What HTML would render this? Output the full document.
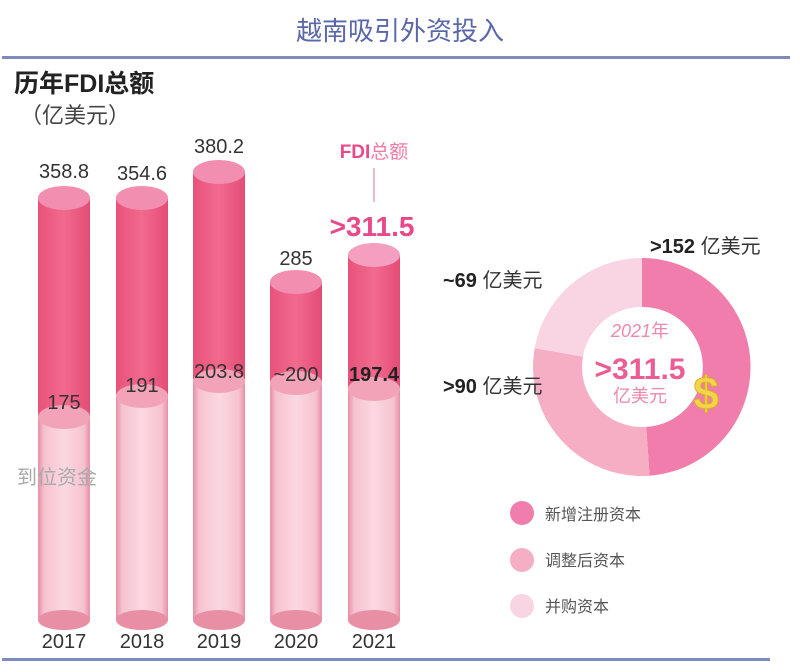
<!DOCTYPE html>
<html><head><meta charset="utf-8"><style>
body{margin:0;background:#fff;}
svg text{font-family:"Liberation Sans","Noto Sans CJK SC",sans-serif;}
</style></head><body>
<svg width="800" height="667" viewBox="0 0 800 667" xmlns="http://www.w3.org/2000/svg">
<defs>
<linearGradient id="dark" x1="0" x2="1" y1="0" y2="0">
<stop offset="0" stop-color="#e8527a"/><stop offset="0.5" stop-color="#f26a8e"/><stop offset="1" stop-color="#e44c76"/>
</linearGradient>
<linearGradient id="light" x1="0" x2="1" y1="0" y2="0">
<stop offset="0" stop-color="#e88ea5"/><stop offset="0.12" stop-color="#f6c3d0"/><stop offset="0.5" stop-color="#fbd8e1"/><stop offset="0.88" stop-color="#f6c3d0"/><stop offset="1" stop-color="#e88ea5"/>
</linearGradient>
</defs>
<text x="400" y="40" text-anchor="middle" font-size="26" fill="#5a67a8">越南吸引外资投入</text>
<rect x="2" y="56" width="788" height="3" fill="#7f8bc0"/>
<text x="14" y="92" font-size="25" font-weight="bold" fill="#222">历年FDI总额</text>
<text x="20" y="123" font-size="22" fill="#444">（亿美元）</text>

<g>
<rect x="38" y="198" width="52" height="422" fill="url(#dark)"/>
<rect x="38" y="417" width="52" height="203" fill="url(#light)"/>
<ellipse cx="64" cy="620" rx="26" ry="10" fill="#e88ea5"/>
<ellipse cx="64" cy="417" rx="26" ry="12" fill="#f3a3b8"/>
<ellipse cx="64" cy="198" rx="26" ry="12" fill="#f28fb0"/>
<text x="64" y="178" text-anchor="middle" font-size="20" fill="#333">358.8</text>
<text x="64" y="409" text-anchor="middle" font-size="20" fill="#333">175</text>
<text x="64" y="648" text-anchor="middle" font-size="20" fill="#333">2017</text>
</g>
<g>
<rect x="116" y="198" width="52" height="422" fill="url(#dark)"/>
<rect x="116" y="396" width="52" height="224" fill="url(#light)"/>
<ellipse cx="142" cy="620" rx="26" ry="10" fill="#e88ea5"/>
<ellipse cx="142" cy="396" rx="26" ry="12" fill="#f3a3b8"/>
<ellipse cx="142" cy="198" rx="26" ry="12" fill="#f28fb0"/>
<text x="142" y="180" text-anchor="middle" font-size="20" fill="#333">354.6</text>
<text x="142" y="392" text-anchor="middle" font-size="20" fill="#333">191</text>
<text x="142" y="648" text-anchor="middle" font-size="20" fill="#333">2018</text>
</g>
<g>
<rect x="193" y="172" width="52" height="448" fill="url(#dark)"/>
<rect x="193" y="381" width="52" height="239" fill="url(#light)"/>
<ellipse cx="219" cy="620" rx="26" ry="10" fill="#e88ea5"/>
<ellipse cx="219" cy="381" rx="26" ry="12" fill="#f3a3b8"/>
<ellipse cx="219" cy="172" rx="26" ry="12" fill="#f28fb0"/>
<text x="219" y="153" text-anchor="middle" font-size="20" fill="#333">380.2</text>
<text x="219" y="378" text-anchor="middle" font-size="20" fill="#333">203.8</text>
<text x="219" y="648" text-anchor="middle" font-size="20" fill="#333">2019</text>
</g>
<g>
<rect x="270" y="282" width="52" height="338" fill="url(#dark)"/>
<rect x="270" y="383" width="52" height="237" fill="url(#light)"/>
<ellipse cx="296" cy="620" rx="26" ry="10" fill="#e88ea5"/>
<ellipse cx="296" cy="383" rx="26" ry="12" fill="#f3a3b8"/>
<ellipse cx="296" cy="282" rx="26" ry="12" fill="#f28fb0"/>
<text x="296" y="265" text-anchor="middle" font-size="20" fill="#333">285</text>
<text x="296" y="381" text-anchor="middle" font-size="20" fill="#333">~200</text>
<text x="296" y="648" text-anchor="middle" font-size="20" fill="#333">2020</text>
</g>
<g>
<rect x="348" y="255" width="52" height="365" fill="url(#dark)"/>
<rect x="348" y="389" width="52" height="231" fill="url(#light)"/>
<ellipse cx="374" cy="620" rx="26" ry="10" fill="#e88ea5"/>
<ellipse cx="374" cy="389" rx="26" ry="12" fill="#f3a3b8"/>
<ellipse cx="374" cy="255" rx="26" ry="12" fill="#f49ec0"/>
<text x="374" y="381" text-anchor="middle" font-size="20" font-weight="bold" fill="#222">197.4</text>
<text x="374" y="648" text-anchor="middle" font-size="20" fill="#333">2021</text>
</g>
<text x="17" y="484" font-size="20" fill="#aaa">到位资金</text>
<line x1="374" y1="168" x2="374" y2="202" stroke="#f0a0bc" stroke-width="1.5"/>
<text x="374" y="158" text-anchor="middle" font-size="19" font-weight="bold" fill="#e8498a">FDI<tspan font-weight="normal" fill="#f07aa8">总额</tspan></text>
<text x="372" y="236" text-anchor="middle" font-size="28" font-weight="bold" fill="#e8498a">&gt;311.5</text>

<g transform="translate(642,367)">
<path d="M0,-109 A109,109 0 0 1 7.6,108.7 L4.2,59.9 A60,60 0 0 0 0,-60 Z" fill="#f07dac"/>
<path d="M7.6,108.7 A109,109 0 0 1 -107.3,-18.9 L-59.1,-10.4 A60,60 0 0 0 4.2,59.9 Z" fill="#f5aec4"/>
<path d="M-107.3,-18.9 A109,109 0 0 1 0,-109 L0,-60 A60,60 0 0 0 -59.1,-10.4 Z" fill="#f9d5e4"/>
<text x="-2" y="-30" text-anchor="middle" font-size="18" font-style="italic" fill="#ee88b0">2021<tspan font-style="normal">年</tspan></text>
<text x="-2" y="12" text-anchor="middle" font-size="30" font-weight="bold" fill="#ec5d95">&gt;311.5</text>
<text x="-2" y="35" text-anchor="middle" font-size="18" fill="#ee88b0">亿美元</text>
<text x="64" y="42" text-anchor="middle" font-size="46" font-weight="bold" fill="#f2d44a" stroke="#d8b020" stroke-width="1">$</text>
</g>
<text x="650" y="253" font-size="20" fill="#333"><tspan font-weight="bold" fill="#222">&gt;152</tspan> 亿美元</text>
<text x="443" y="287" font-size="20" fill="#333"><tspan font-weight="bold" fill="#222">~69</tspan> 亿美元</text>
<text x="443" y="393" font-size="20" fill="#333"><tspan font-weight="bold" fill="#222">&gt;90</tspan> 亿美元</text>

<circle cx="522" cy="513" r="12" fill="#f07dac"/>
<circle cx="522" cy="560" r="12" fill="#f5aec4"/>
<circle cx="522" cy="606" r="12" fill="#f9d5e4"/>
<text x="545" y="520" font-size="16" fill="#555">新增注册资本</text>
<text x="545" y="566" font-size="16" fill="#555">调整后资本</text>
<text x="545" y="612" font-size="16" fill="#555">并购资本</text>

<rect x="2" y="658" width="768" height="3" fill="#7f8bc0"/>
</svg>
</body></html>
